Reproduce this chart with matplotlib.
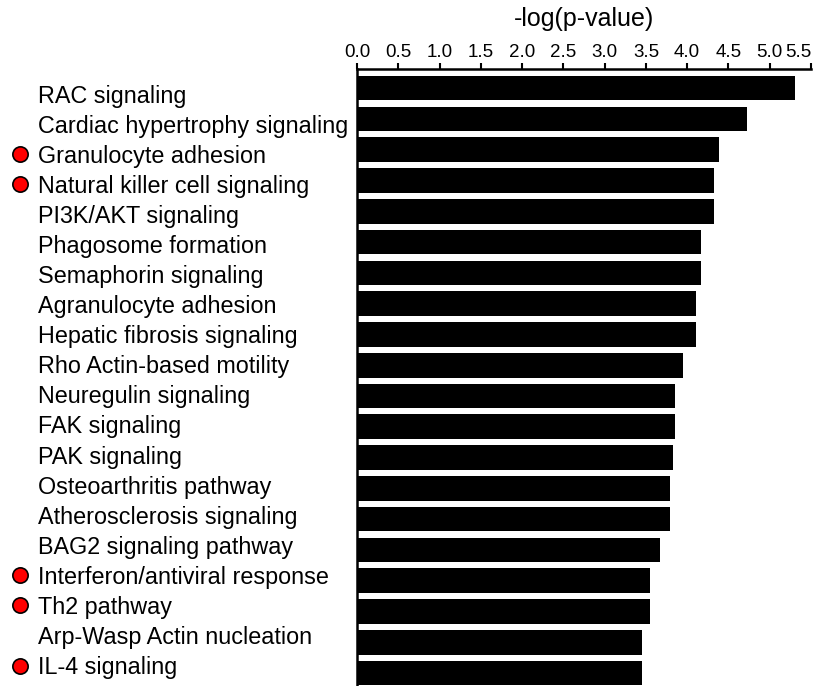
import matplotlib

matplotlib.use("Agg")
import matplotlib.pyplot as plt
from matplotlib.transforms import blended_transform_factory

pathways = [
    "RAC signaling",
    "Cardiac hypertrophy signaling",
    "Granulocyte adhesion",
    "Natural killer cell signaling",
    "PI3K/AKT signaling",
    "Phagosome formation",
    "Semaphorin signaling",
    "Agranulocyte adhesion",
    "Hepatic fibrosis signaling",
    "Rho Actin-based motility",
    "Neuregulin signaling",
    "FAK signaling",
    "PAK signaling",
    "Osteoarthritis pathway",
    "Atherosclerosis signaling",
    "BAG2 signaling pathway",
    "Interferon/antiviral response",
    "Th2 pathway",
    "Arp-Wasp Actin nucleation",
    "IL-4 signaling",
]
neg_log_p = [5.31, 4.72, 4.38, 4.32, 4.32, 4.17, 4.17, 4.11, 4.11, 3.95,
             3.85, 3.85, 3.83, 3.79, 3.79, 3.67, 3.55, 3.55, 3.45, 3.45]
immune_flag = [False, False, True, True, False, False, False, False, False, False,
               False, False, False, False, False, False, True, True, False, True]
x_ticks = [0.0, 0.5, 1.0, 1.5, 2.0, 2.5, 3.0, 3.5, 4.0, 4.5, 5.0, 5.5]

# the name column runs on a slightly tighter pitch than the bars
LABEL_STEP = 0.977
LABEL_BASELINE = 0.47
MARKER_RISE = 0.276

plt.rcParams["font.family"] = ["Liberation Sans", "DejaVu Sans"]

fig = plt.figure(figsize=(8.21, 6.86), dpi=100)
ax = fig.add_axes([357 / 821, 0.0, (811 - 357) / 821, 1 - 69 / 686])

ypos = list(range(len(pathways)))
ax.barh(ypos, neg_log_p, height=0.8, color="black")

ax.set_xlim(0, 5.5)
ax.set_ylim(len(pathways) - 0.58, -0.62)

ax.xaxis.tick_top()
ax.xaxis.set_label_position("top")
ax.set_xticks(x_ticks)
ax.set_xticklabels([f"{t:.1f}" for t in x_ticks], fontsize=13.5)
ax.get_xticklabels()[-1].set_horizontalalignment("right")
ax.tick_params(axis="x", direction="out", length=4, width=1.5, pad=1.5)
ax.set_xlabel("-log(p-value)", fontsize=18, labelpad=13)
ax.set_yticks([])

for side in ("right", "bottom"):
    ax.spines[side].set_visible(False)
for side in ("top", "left"):
    ax.spines[side].set_linewidth(1.8)

# pathway names and immune markers sit in the left margin
trans = blended_transform_factory(fig.transFigure, ax.transData)
for i, (name, flag) in enumerate(zip(pathways, immune_flag)):
    base = LABEL_BASELINE + i * LABEL_STEP
    ax.text(38 / 821, base, name, transform=trans, ha="left", va="baseline",
            fontsize=16.8, clip_on=False)
    if flag:
        ax.plot([20 / 821], [base - MARKER_RISE], transform=trans, marker="o",
                markersize=11, markerfacecolor="#ff0000",
                markeredgecolor="black", markeredgewidth=1.2, clip_on=False)

fig.savefig("out.png", dpi=100)
plt.close(fig)
